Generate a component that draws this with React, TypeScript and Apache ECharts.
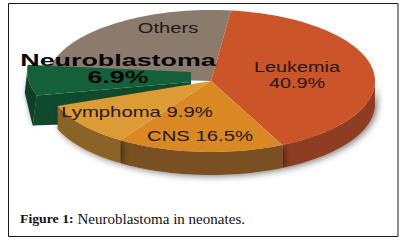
import React, { useEffect, useRef } from "react";
import * as echarts from "echarts";

const categories = ["Leukemia", "CNS", "Lymphoma", "Neuroblastoma", "Others"];
const sliceValues = [40.9, 16.5, 9.9, 6.9, 25.8];
const sliceLabels = ["Leukemia\n40.9%", "CNS 16.5%", "Lymphoma 9.9%", "Neuroblastoma\n6.9%", "Others"];
const topColors = ["#cb5428", "#d98824", "#dd9b35", "#14603a", "#8b7b6d"];
const sideColors = ["#8f3d20", "#7a4f22", "#8c6428", "#0f4a2d", "#6b5d50"];
const captionBold = "Figure 1:";
const captionText = "Neuroblastoma in neonates.";

const CX = 211, CY = 81, RX = 164, RY = 71, DEPTH = 23, START = 7;
const EXPLODED = 3;

function rim(a0: number, a1: number, ox = 0, oy = 0, rot = 0) {
  const pts: number[][] = [];
  const n = Math.max(2, Math.ceil(Math.abs(a1 - a0) / 2));
  const c = Math.cos(rot), s = Math.sin(rot);
  for (let i = 0; i <= n; i++) {
    const a = ((a0 + ((a1 - a0) * i) / n) * Math.PI) / 180;
    const dx = RX * Math.sin(a), dy = -RY * Math.cos(a);
    pts.push([CX + ox + dx * c - dy * s, CY + oy + dx * s + dy * c]);
  }
  return pts;
}
const shift = (p: number[][], y: number) => p.map((q) => [q[0], q[1] + y]);

export default function App() {
  const ref = useRef<HTMLDivElement>(null);
  useEffect(() => {
    document.body.style.margin = "0";
    document.body.style.background = "#fff";
    const chart = echarts.init(ref.current!, undefined, { renderer: "svg" });
    const total = sliceValues.reduce((a, b) => a + b, 0);
    const starts: number[] = [];
    let acc = START;
    sliceValues.forEach((v) => {
      starts.push(acc);
      acc += (v / total) * 360;
    });

    const renderItem = (params: any, api: any) => {
      const i = params.dataIndex;
      const v = api.value(0) as number;
      const a0 = starts[i];
      const a1 = a0 + (v / total) * 360;
      const children: any[] = [];
      if (i === EXPLODED) {
        const ox = -20, oy = -4, rot = (2.5 * Math.PI) / 180;
        const arc = rim(a0, a1, ox, oy, rot);
        const ax = CX + ox, ay = CY + oy;
        const low = arc[0];
        const high = arc[arc.length - 1];
        const shadow = { shadowBlur: 5, shadowColor: "rgba(0,0,0,0.5)", shadowOffsetX: 1, shadowOffsetY: 2 };
        children.push({
          type: "polygon", z2: 2,
          shape: { points: [...arc, [high[0] - 3, high[1] + 28], [low[0] - 4, low[1] + 30]] },
          style: { fill: "#0c3f27", ...shadow },
        });
        children.push({
          type: "polygon", z2: 3,
          shape: {
            points: [
              [ax, ay + 5], low, [low[0] - 4, low[1] + 30], [low[0] + 24, low[1] + 29], [ax, ay + 9],
            ],
          },
          style: { fill: sideColors[i] },
        });
        children.push({
          type: "polygon", z2: 4,
          shape: { points: [[ax, ay + 5], ...arc, [ax, ay - 5]] },
          style: { fill: topColors[i] },
        });
      } else {
        const front0 = Math.max(a0, 90);
        const front1 = Math.min(a1, 255);
        if (front1 > front0) {
          const arc = rim(front0, front1);
          children.push({
            type: "polygon", z2: 5,
            shape: { points: [...arc, ...shift(arc, DEPTH).reverse()] },
            style: {
              fill: sideColors[i],
              shadowBlur: 7, shadowColor: "rgba(0,0,0,0.55)", shadowOffsetX: 2, shadowOffsetY: 1,
            },
          });
        }
        children.push({
          type: "polygon", z2: i === 4 ? 1 : 6,
          shape: { points: [[CX, CY], ...rim(a0, a1)] },
          style: { fill: topColors[i] },
        });
      }
      return { type: "group", children };
    };

    const labelPos = [
      [297, 75, 1.32, 15, 16],
      [200, 136, 1.45, 14, 16],
      [137, 112, 1.45, 14, 16],
      [118, 68.5, 1.58, 17, 17],
      [168, 28, 1.44, 14, 16],
    ];

    chart.setOption({
      animation: false,
      graphic: [
        {
          type: "rect", z: -1,
          shape: { x: 8.5, y: 3.5, width: 389.5, height: 233 },
          style: { fill: "#fff", stroke: "#1a1a1a", lineWidth: 1 },
        },
        ...sliceLabels.map((t, i) => ({
          type: "text", z: 10,
          x: labelPos[i][0], y: labelPos[i][1],
          scaleX: labelPos[i][2], scaleY: 1,
          style: {
            text: t,
            font: `${i === EXPLODED ? "bold " : ""}${labelPos[i][3]}px "Liberation Sans"`,
            fill: i === EXPLODED ? "#050505" : "#231a12",
            align: "center", verticalAlign: "middle", lineHeight: labelPos[i][4],
          },
        })),
        {
          type: "text", z: 10, x: 20, y: 219, scaleX: 1.06,
          style: {
            text: `{b|${captionBold}} ${captionText}`,
            font: '14.2px "Liberation Serif"',
            fill: "#111",
            verticalAlign: "middle",
            rich: { b: { font: 'bold 13px "Liberation Serif"', fill: "#111" } },
          },
        },
      ],
      series: [
        {
          type: "custom",
          coordinateSystem: "none",
          silent: true,
          renderItem,
          data: categories.map((name, i) => ({ name, value: [sliceValues[i]] })),
        },
      ],
    });
    return () => chart.dispose();
  }, []);
  return <div ref={ref} style={{ position: "absolute", left: 0, top: 0, width: 404, height: 242 }} />;
}
